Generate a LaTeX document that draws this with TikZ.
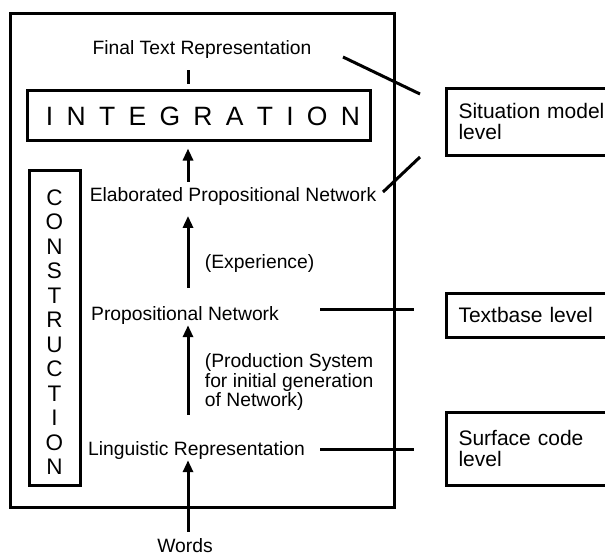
\documentclass[tikz,border=0pt]{standalone}
\usepackage{fontspec}
\setmainfont{Liberation Sans}
\usetikzlibrary{arrows.meta}
\newcommand{\lsp}{\hspace{13.3pt}}
\begin{document}
\begin{tikzpicture}[x=1pt,y=-1pt,
  lbl/.style={inner sep=0pt, font=\fontsize{19.3}{19.3}\selectfont},
  framebox/.style={draw, line width=3pt, inner sep=0pt},
  lvlbox/.style={draw, line width=3pt, inner xsep=12pt, inner ysep=0pt,
    text width=181pt, align=left, anchor=west,
    font=\fontsize{21}{21.7}\selectfont},
  ln/.style={line width=3pt},
  arr/.style={line width=3pt, -{Triangle[length=12pt,width=10pt]}},
]
\useasboundingbox (0,0) rectangle (605,555);
\clip (0,0) rectangle (605,555);

% outer frame
\node[framebox, minimum width=384pt, minimum height=494pt] (frame) at (202,260) {};

% spine for vertical arrows
\coordinate (spine) at (188,0);

% labels
\node[lbl, anchor=base] (ftr) at (202,54.3) {Final Text Representation};
\node[framebox, minimum width=343pt, minimum height=50pt,
      font=\fontsize{26.5}{26.5}\selectfont] (integ) at (198.5,115)
  {\raisebox{-1.5pt}[\height][\depth]{\hspace*{9pt}I\lsp N\lsp T\lsp E\lsp G\lsp R\lsp A\lsp T\lsp I\lsp O\lsp N}};
\node[framebox, minimum width=51pt, minimum height=315pt,
      font=\fontsize{22.5}{24.5}\selectfont] (constr) at (54.5,327.5)
  {\raisebox{-7.6pt}[\height][\depth]{\begin{tabular}{@{}c@{}}C\\O\\N\\S\\T\\R\\U\\C\\T\\I\\O\\N\end{tabular}}};

\node[lbl, anchor=base] (elab) at (233,201.7) {Elaborated Propositional Network};
\node[lbl, anchor=base west] (exp) at (204.7,268) {(Experience)};
\node[lbl, anchor=base] (prop) at (185,320) {Propositional Network};
\node[lbl, anchor=north west, align=left] (prod) at (204.7,353.6)
  {(Production System\\for initial generation\\of Network)};
\node[lbl, anchor=base] (ling) at (196.5,455) {Linguistic Representation};
\node[lbl, anchor=base] (words) at (185,552.3) {Words};

% level boxes
\node[lvlbox, minimum height=67pt] (sit) at (445,121.5) {Situation model\\level};
\node[lvlbox, minimum height=44pt] (tb) at (445,315) {Textbase level};
\node[lvlbox, minimum height=73pt] (sc) at (445,448.5) {Surface code\\level};

% vertical connectors
\draw[ln, shorten <=11.7pt, shorten >=5pt] (ftr.south -| spine) -- (integ.north -| spine);
\draw[arr, shorten <=5.6pt, shorten >=7pt] (elab.north -| spine) -- (integ.south -| spine);
\draw[arr, shorten <=18pt, shorten >=10pt] (prop.north -| spine) -- (elab.south -| spine);
\draw[arr, shorten <=26pt, shorten >=1pt] (ling.north -| spine) -- (prop.south -| spine);
\draw[arr, shorten <=6.2pt, shorten >=1pt] (words.north -| spine) -- (ling.south -| spine);

% level pointers
\coordinate (p1a) at (343,57);  \coordinate (p1b) at (420,94);
\coordinate (p2a) at (383,192); \coordinate (p2b) at (420,157);
\coordinate (p3a) at (320,309); \coordinate (p3b) at (414,309);
\coordinate (p4a) at (320,449); \coordinate (p4b) at (414,449);
\draw[ln] (p1a) -- (p1b);
\draw[ln] (p2a) -- (p2b);
\draw[ln] (p3a) -- (p3b);
\draw[ln] (p4a) -- (p4b);
\end{tikzpicture}
\end{document}
